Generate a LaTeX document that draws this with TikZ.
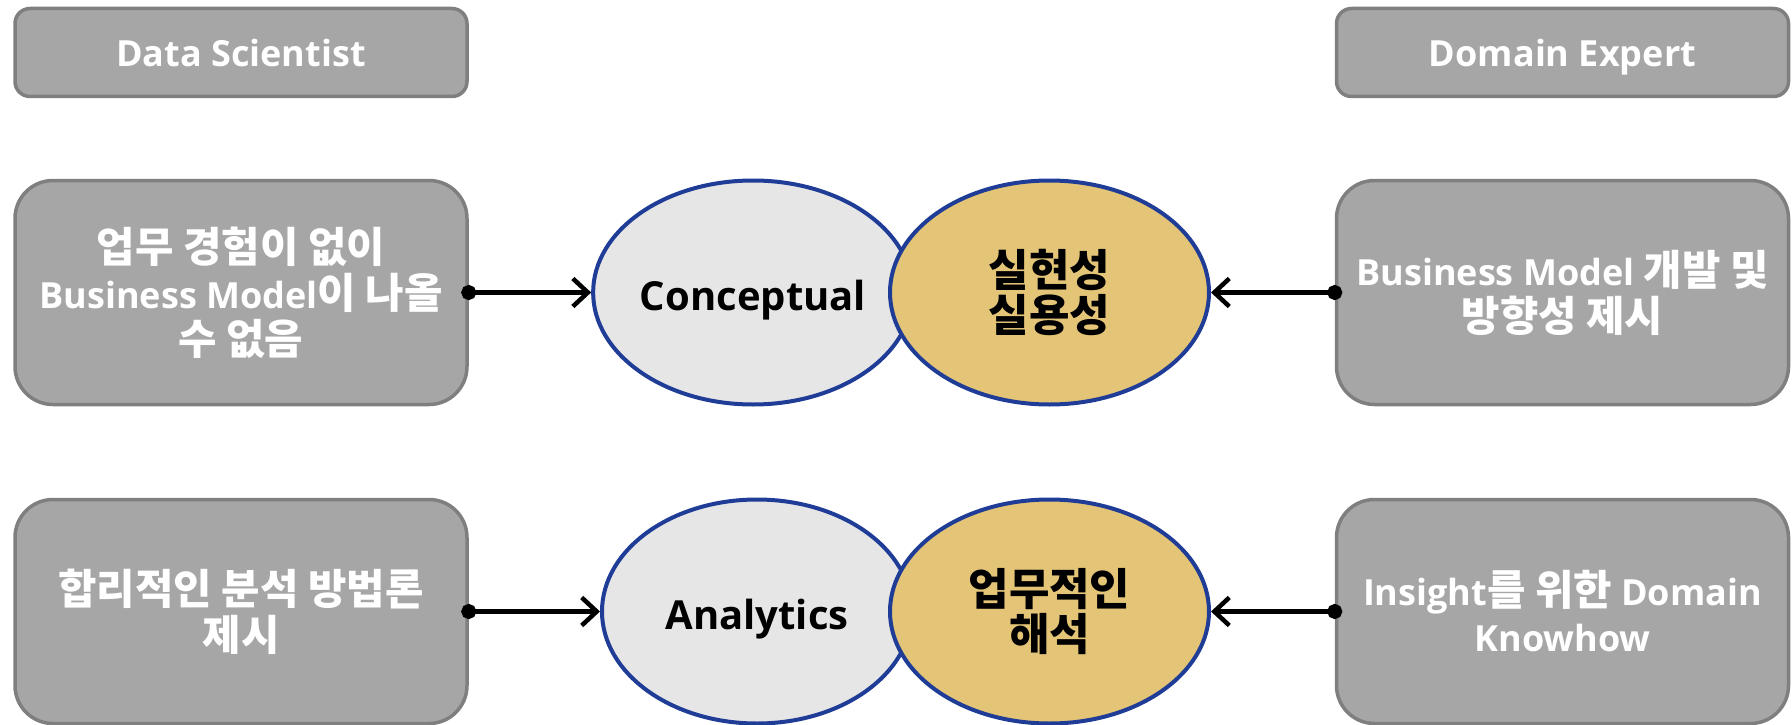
\documentclass[tikz,border=0pt]{standalone}
\usepackage{fontspec}
\setmainfont{Open Sans}
% Hangul runs: one cut for the white notes, one for the oval labels
\newfontfamily\krw{Noto Sans CJK KR}[Scale=1.16]
\newfontfamily\krb{Noto Sans CJK KR}[Scale=1.10]
\usetikzlibrary{shapes.geometric,arrows.meta}
\definecolor{boxgray}{HTML}{A6A6A6}
\definecolor{boxedge}{HTML}{7F7F7F}
\definecolor{ovalgray}{HTML}{E6E6E6}
\definecolor{ovalgold}{HTML}{E4C577}
\definecolor{ovaledge}{HTML}{1F3C96}

\begin{document}
\begin{tikzpicture}[x=1pt,y=-1pt,
  notebox/.style={draw=boxedge, line width=3.5pt, fill=boxgray, rounded corners=38pt,
    minimum width=452pt, minimum height=224pt, inner sep=0pt, text=white,
    font=\fontsize{36}{46}\selectfont\bfseries, align=center},
  rolebox/.style={notebox, rounded corners=15pt, minimum height=88pt,
    text height=30pt, text depth=2pt},
  oval/.style={ellipse, draw=ovaledge, line width=4pt, inner sep=0pt,
    minimum height=224pt, font=\fontsize{40}{45}\selectfont\bfseries, align=center},
  lightoval/.style={oval, fill=ovalgray, text height=35pt, text depth=0pt},
  goldoval/.style={oval, fill=ovalgold, minimum width=319pt},
  link/.style={line width=4.5pt, shorten <=-7.5pt,
    {Circle[length=15pt]}-{Straight Barb[length=15pt,width=28pt]}}
]
\useasboundingbox (0,0) rectangle (1792,725);

% role headers
\node[rolebox] (ds) at (241,52.5) {Data Scientist};
\node[rolebox] (de) at (1562.5,52.5) {Domain Expert};

% side notes
\node[notebox] (ln1) at (241,292.5) {{\krw 업무 경험이 없이}\\Business Model{\krw 이 나올}\\{\krw 수 없음}};
\node[notebox] (rn1) at (1562.5,292.5) {Business Model {\krw 개발 및}\\{\krw 방향성 제시}};
\node[notebox] (ln2) at (241,611.5) {{\krw 합리적인 분석 방법론}\\{\krw 제시}};
\node[notebox] (rn2) at (1562.5,611.5) {Insight{\krw 를 위한} Domain\\Knowhow};

% central ovals
\node[lightoval, minimum width=318pt] (c1) at (753,292.5) {Conceptual};
\node[goldoval] (g1) at (1049.5,292.5) {{\krb 실현성}\\{\krb 실용성}};
\node[lightoval, minimum width=310pt] (c2) at (757,611.5) {Analytics};
\node[goldoval] (g2) at (1049.5,611.5) {{\krb 업무적인}\\{\krb 해석}};

% connectors
\draw[link] (ln1.east) -- (c1.west);
\draw[link] (rn1.west) -- (g1.east);
\draw[link] (ln2.east) -- (c2.west);
\draw[link] (rn2.west) -- (g2.east);
\end{tikzpicture}
\end{document}
